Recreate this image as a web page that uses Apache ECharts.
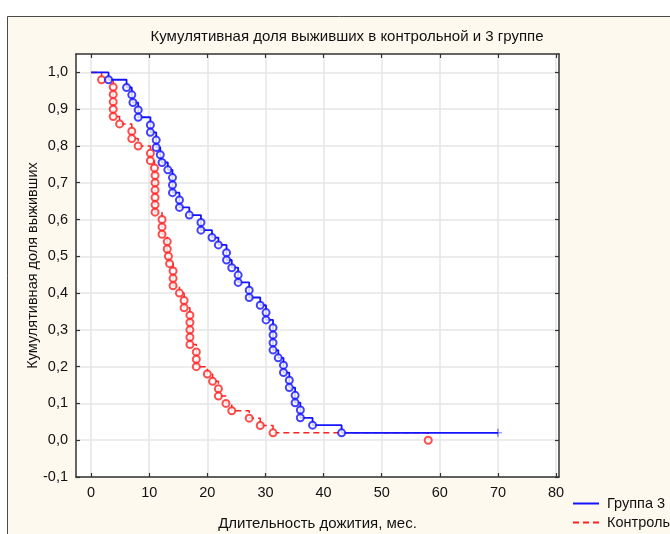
<!DOCTYPE html>
<html>
<head>
<meta charset="utf-8">
<script src="https://cdn.jsdelivr.net/npm/echarts@6/dist/echarts.min.js"></script>
<style>
  html, body { margin: 0; padding: 0; background: #fff; }
  #chart { width: 670px; height: 534px; }
</style>
</head>
<body>
<div id="chart"></div>
<script>
// Группа 3: моменты событий (мес.) и доля выживших после события
var group3Time = [3.0, 6.1, 7.0, 7.2, 8.1, 8.1, 10.2, 10.2, 11.2, 11.2, 11.9, 12.2, 13.2, 14.0, 14.0, 14.0,
    15.2, 15.2, 16.9, 18.9, 18.9, 20.8, 21.9, 23.3, 23.3, 24.2, 25.3, 25.3, 27.2, 27.2, 29.1, 30.1, 30.1,
    31.3, 31.3, 31.3, 31.3, 32.2, 33.1, 33.1, 34.1, 34.1, 35.1, 35.1, 36.0, 36.0, 38.1, 43.1];
var group3Surv = [0.980, 0.959, 0.939, 0.918, 0.898, 0.878, 0.857, 0.837, 0.816, 0.796, 0.776, 0.755, 0.735,
    0.714, 0.694, 0.673, 0.653, 0.633, 0.612, 0.592, 0.571, 0.551, 0.531, 0.510, 0.490, 0.469, 0.449, 0.429,
    0.408, 0.388, 0.367, 0.347, 0.327, 0.306, 0.286, 0.265, 0.245, 0.224, 0.204, 0.184, 0.163, 0.143, 0.122,
    0.102, 0.082, 0.061, 0.041, 0.020];
// цензурированные наблюдения группы 3
var group3CensTime = [70.0];
var group3CensSurv = [0.020];

// Контроль
var controlTime = [1.8, 3.8, 3.8, 3.8, 3.8, 3.8, 4.9, 7.0, 7.0, 8.1, 10.2, 10.2, 10.9, 11.0, 11.0, 11.0, 11.0,
    11.0, 11.0, 12.2, 12.2, 12.2, 13.1, 13.1, 13.3, 13.5, 14.1, 14.1, 14.1, 15.2, 16.0, 16.0, 17.0, 17.0, 17.0,
    17.0, 17.0, 18.1, 18.1, 18.1, 20.0, 20.9, 21.9, 21.9, 23.2, 24.2, 27.2, 29.1, 31.3, 58.0];
var controlSurv = [0.98, 0.96, 0.94, 0.92, 0.90, 0.88, 0.86, 0.84, 0.82, 0.80, 0.78, 0.76, 0.74, 0.72, 0.70,
    0.68, 0.66, 0.64, 0.62, 0.60, 0.58, 0.56, 0.54, 0.52, 0.50, 0.48, 0.46, 0.44, 0.42, 0.40, 0.38, 0.36, 0.34,
    0.32, 0.30, 0.28, 0.26, 0.24, 0.22, 0.20, 0.18, 0.16, 0.14, 0.12, 0.10, 0.08, 0.06, 0.04, 0.02, 0.00];

var xTicks = [0, 10, 20, 30, 40, 50, 60, 70, 80];
var yTicks = [-0.1, 0, 0.1, 0.2, 0.3, 0.4, 0.5, 0.6, 0.7, 0.8, 0.9, 1.0];

var BLUE = '#1414ff';
var RED = '#ff2020';
var FONT = 'Liberation Sans, Arial, sans-serif';

function pairs(xs, ys) {
    var out = [];
    for (var i = 0; i < xs.length; i++) out.push([xs[i], ys[i]]);
    return out;
}

var g3Events = pairs(group3Time, group3Surv);
var g3Cens = pairs(group3CensTime, group3CensSurv);
var ctEvents = pairs(controlTime, controlSurv);

var axisLine = { show: true, onZero: false, lineStyle: { color: '#333', width: 1.5 } };
var tickStyle = { color: '#333', width: 1.2 };

var myChart = echarts.init(document.getElementById('chart'));

var option = {
    backgroundColor: '#fff',
    animation: false,
    graphic: [{
        type: 'rect',
        z: -10,
        shape: { x: 7.5, y: 16.5, width: 700, height: 540 },
        style: { fill: '#fef9ee', stroke: '#4a4a4a', lineWidth: 1 }
    }],
    title: {
        text: 'Кумулятивная доля выживших в контрольной и 3 группе',
        left: 342,
        top: 24,
        textAlign: 'center',
        textStyle: { fontFamily: FONT, fontSize: 15, fontWeight: 'normal', color: '#111' }
    },
    legend: {
        orient: 'vertical',
        left: 572,
        top: 496,
        padding: 0,
        itemWidth: 26,
        itemHeight: 14,
        itemGap: 4,
        itemStyle: { opacity: 0 },
        textStyle: { fontFamily: FONT, fontSize: 14.5, color: '#111', padding: [0, 0, 0, 3] },
        data: ['Группа 3', 'Контроль']
    },
    grid: {
        left: 76, right: 111, top: 54, bottom: 57,
        outerBoundsMode: 'none',
        containLabel: false,
        show: true, backgroundColor: '#fff', borderWidth: 0
    },
    xAxis: [{
        type: 'value',
        min: -2.6, max: 80.5,
        name: 'Длительность дожития, мес.',
        nameLocation: 'middle',
        nameGap: 39,
        nameMoveOverlap: false,
        nameTextStyle: { fontFamily: FONT, fontSize: 15, color: '#111' },
        axisLine: axisLine,
        axisTick: { show: true, inside: true, length: 4, lineStyle: tickStyle, customValues: xTicks },
        axisLabel: { customValues: xTicks, margin: 8, fontFamily: FONT, fontSize: 14.5, color: '#111' },
        splitLine: { show: true, lineStyle: { color: '#e6e6e6', width: 1.5 } }
    }, {
        type: 'value',
        position: 'top',
        min: -2.6, max: 80.5,
        axisLine: axisLine,
        axisTick: { show: true, inside: true, length: 4, lineStyle: tickStyle, customValues: xTicks },
        axisLabel: { show: false },
        splitLine: { show: false }
    }],
    yAxis: [{
        type: 'value',
        min: -0.1, max: 1.05,
        name: 'Кумулятивная доля выживших',
        nameLocation: 'middle',
        nameGap: 36,
        nameMoveOverlap: false,
        nameTextStyle: { fontFamily: FONT, fontSize: 14.5, color: '#111' },
        axisLine: axisLine,
        axisTick: { show: true, inside: true, length: 4, lineStyle: tickStyle, customValues: yTicks },
        axisLabel: {
            customValues: yTicks, margin: 8, fontFamily: FONT, fontSize: 14.5, color: '#111',
            formatter: function (v) { return v.toFixed(1).replace('.', ','); }
        },
        splitLine: { show: true, lineStyle: { color: '#e6e6e6', width: 1.5 } }
    }, {
        type: 'value',
        position: 'right',
        min: -0.1, max: 1.05,
        axisLine: axisLine,
        axisTick: { show: true, inside: true, length: 4, lineStyle: tickStyle, customValues: yTicks },
        axisLabel: { show: false },
        splitLine: { show: false }
    }],
    series: [{
        name: 'Контроль',
        type: 'line',
        step: 'end',
        showSymbol: false,
        symbol: 'emptyCircle',
        lineStyle: { color: RED, width: 1.5, type: [6, 4] },
        itemStyle: { color: RED },
        data: [[0, 1.0]].concat(ctEvents),
        z: 2
    }, {
        name: 'Контроль',
        type: 'scatter',
        symbol: 'emptyCircle',
        symbolSize: 7,
        itemStyle: { color: RED, borderColor: RED, borderWidth: 1.5 },
        data: ctEvents,
        z: 3
    }, {
        name: 'Группа 3',
        type: 'line',
        step: 'end',
        showSymbol: false,
        symbol: 'emptyCircle',
        lineStyle: { color: BLUE, width: 1.8 },
        itemStyle: { color: BLUE },
        data: [[0, 1.0]].concat(g3Events, g3Cens),
        z: 4
    }, {
        name: 'Группа 3',
        type: 'scatter',
        symbol: 'emptyCircle',
        symbolSize: 7,
        itemStyle: { color: BLUE, borderColor: BLUE, borderWidth: 1.5 },
        data: g3Events,
        z: 5
    }, {
        name: 'Группа 3 цензур.',
        type: 'scatter',
        symbol: 'path://M-0.6,-5H0.6V-0.6H5V0.6H0.6V5H-0.6V0.6H-5V-0.6H-0.6Z',
        symbolSize: 8,
        itemStyle: { color: BLUE },
        data: g3Cens,
        z: 5
    }]
};

myChart.setOption(option);
</script>
</body>
</html>
